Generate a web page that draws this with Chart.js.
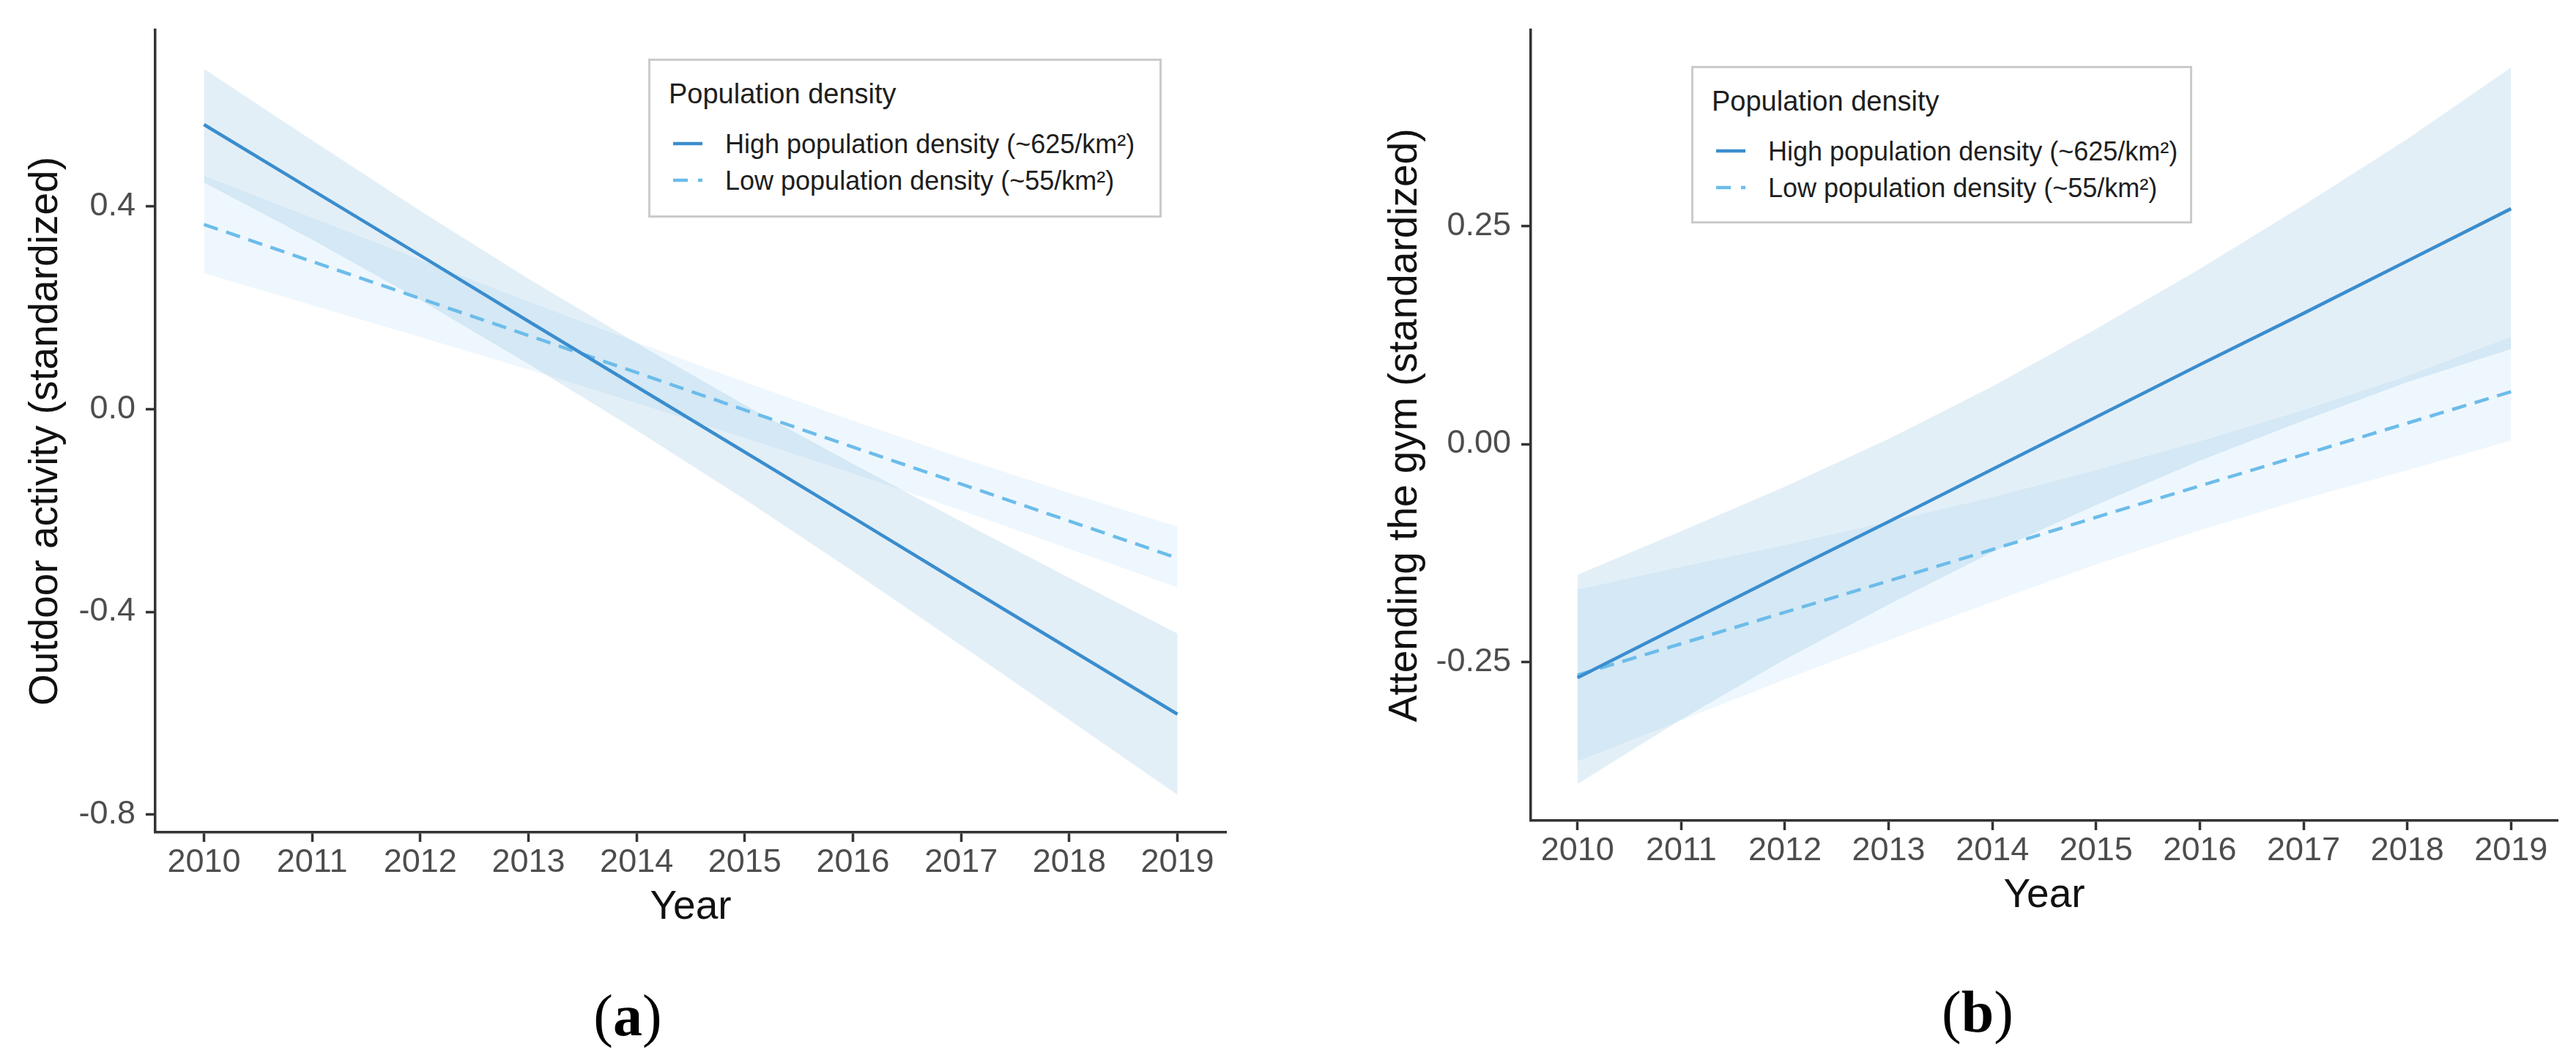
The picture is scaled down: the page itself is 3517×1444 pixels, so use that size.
<!DOCTYPE html>
<html>
<head>
<meta charset="utf-8">
<script src="https://cdn.jsdelivr.net/npm/chart.js@4.4.1/dist/chart.umd.min.js"></script>
<style>
  html, body { margin: 0; padding: 0; background: #fff; }
  #page { position: relative; width: 3517px; height: 1444px; overflow: hidden; font-family: "Liberation Sans", Arial, sans-serif; }
  canvas { position: absolute; top: 0; }
  .legend { position: absolute; box-sizing: border-box; border: 3px solid #cbcbcb; background: #fff; }
  .legend span { position: absolute; line-height: 1; color: #1e1e1e; white-space: nowrap; font-size: 36px; }
  .legend .ttl { font-size: 38px; left: 25px; top: 26px; }
  .legend svg { position: absolute; left: 31px; }
  .panel { position: absolute; width: 200px; text-align: center; font-family: "Liberation Serif", "Times New Roman", serif; font-size: 80px; line-height: 1; color: #000; }
</style>
</head>
<body>
<div id="page">
  <canvas id="chartA" width="1760" height="1444" style="left:0px"></canvas>
  <canvas id="chartB" width="1757" height="1444" style="left:1760px"></canvas>

  <div class="legend" id="legA" style="left:885px; top:80px; width:701px; height:217px;"></div>
  <div class="legend" id="legB" style="left:2309px; top:90px; width:684px; height:215px;"></div>

  <div class="panel" style="left:757px; top:1346px;">(<b>a</b>)</div>
  <div class="panel" style="left:2600px; top:1341px;">(<b>b</b>)</div>
</div>

<script>
// years on the x axis
const years = [2010, 2011, 2012, 2013, 2014, 2015, 2016, 2017, 2018, 2019];

// (a) outdoor activity
const outdoorHighFit = [0.561, 0.432, 0.303, 0.173, 0.044, -0.085, -0.214, -0.344, -0.473, -0.602];
const outdoorHighHi  = [0.671, 0.530, 0.391, 0.257, 0.130, 0.008, -0.108, -0.222, -0.333, -0.443];
const outdoorHighLo  = [0.447, 0.334, 0.215, 0.089, -0.042, -0.178, -0.320, -0.466, -0.613, -0.761];
const outdoorLowFit  = [0.364, 0.291, 0.218, 0.145, 0.072, -0.002, -0.075, -0.148, -0.221, -0.294];
const outdoorLowHi   = [0.460, 0.377, 0.294, 0.212, 0.132, 0.053, -0.023, -0.096, -0.166, -0.232];
const outdoorLowLo   = [0.268, 0.205, 0.142, 0.078, 0.012, -0.057, -0.127, -0.200, -0.276, -0.352];

// (b) attending the gym
const gymHighFit = [-0.268, -0.208, -0.148, -0.089, -0.029, 0.031, 0.091, 0.150, 0.210, 0.270];
const gymHighHi  = [-0.150, -0.100, -0.049, 0.006, 0.066, 0.132, 0.201, 0.274, 0.350, 0.432];
const gymHighLo  = [-0.390, -0.316, -0.247, -0.184, -0.124, -0.070, -0.019, 0.027, 0.071, 0.109];
const gymLowFit  = [-0.265, -0.229, -0.193, -0.157, -0.121, -0.084, -0.048, -0.012, 0.024, 0.060];
const gymLowHi   = [-0.167, -0.141, -0.116, -0.089, -0.061, -0.030, 0.003, 0.039, 0.078, 0.123];
const gymLowLo   = [-0.364, -0.317, -0.270, -0.225, -0.181, -0.138, -0.099, -0.063, -0.030, 0.004];

// y ticks
const outdoorTicks = [-0.8, -0.4, 0, 0.4];
const outdoorTickLabels = ["-0.8", "-0.4", "0.0", "0.4"];
const gymTicks = [-0.25, 0, 0.25];
const gymTickLabels = ["-0.25", "0.00", "0.25"];

const legendTitle = "Population density";
const seriesNames = ["High population density (~625/km²)", "Low population density (~55/km²)"];

const HIGH_COL = "#3a8dce";
const LOW_COL = "#6cbcea";
const HIGH_BAND = "rgba(66,146,198,0.15)";
const LOW_BAND = "rgba(90,180,240,0.10)";
const AXIS_COL = "#333333";
const TICK_COL = "#4d4d4d";
const DASH = [20, 12];

Chart.defaults.font.family = '"Liberation Sans", Arial, sans-serif';

function pts(vals) {
  return years.map((yr, i) => ({ x: yr, y: vals[i] }));
}

function edge(vals, fill, color) {
  return {
    data: pts(vals), borderColor: "rgba(0,0,0,0)", borderWidth: 0,
    pointRadius: 0, fill: fill, backgroundColor: color
  };
}

function buildChart(id, o) {
  return new Chart(document.getElementById(id), {
    type: "line",
    data: {
      datasets: [
        { data: pts(o.highFit), borderColor: HIGH_COL, borderWidth: 4.5, pointRadius: 0, fill: false },
        { data: pts(o.lowFit), borderColor: LOW_COL, borderWidth: 4.5, borderDash: DASH, pointRadius: 0, fill: false },
        edge(o.highHi, "+1", HIGH_BAND),
        edge(o.highLo, false, "rgba(0,0,0,0)"),
        edge(o.lowHi, "+1", LOW_BAND),
        edge(o.lowLo, false, "rgba(0,0,0,0)")
      ]
    },
    options: {
      responsive: false,
      animation: false,
      devicePixelRatio: 1,
      layout: { padding: o.pad },
      plugins: { legend: { display: false }, tooltip: { enabled: false } },
      scales: {
        x: {
          type: "linear", min: 2009.55, max: 2019.45,
          afterBuildTicks: s => { s.ticks = years.map(v => ({ value: v })); },
          afterFit: s => { s.height = o.xH; },
          ticks: { callback: v => String(v), color: TICK_COL, font: { size: 45, lineHeight: 1.2 }, padding: 2, maxRotation: 0, autoSkip: false },
          grid: { drawOnChartArea: false, tickLength: 13, tickWidth: 3.5, tickColor: AXIS_COL },
          border: { color: AXIS_COL, width: 3.5 },
          title: { display: true, text: "Year", color: "#111", font: { size: 55, lineHeight: 1.2 }, padding: { top: 0, bottom: o.xTitlePad } }
        },
        y: {
          type: "linear", min: o.yMin, max: o.yMax,
          afterBuildTicks: s => { s.ticks = o.yTicks.map(v => ({ value: v })); },
          afterFit: s => { s.width = o.yW; },
          ticks: { callback: v => o.yLabels[o.yTicks.indexOf(v)], color: TICK_COL, font: { size: 45, lineHeight: 1.2 }, padding: 14, autoSkip: false },
          grid: { drawOnChartArea: false, tickLength: 13, tickWidth: 3.5, tickColor: AXIS_COL },
          border: { color: AXIS_COL, width: 3.5 },
          title: { display: true, text: o.yTitle, color: "#111", font: { size: 55, lineHeight: 1.2 }, padding: { top: o.yTitlePad, bottom: 0 } }
        }
      }
    }
  });
}

buildChart("chartA", {
  highFit: outdoorHighFit, highHi: outdoorHighHi, highLo: outdoorHighLo,
  lowFit: outdoorLowFit, lowHi: outdoorLowHi, lowLo: outdoorLowLo,
  yMin: -0.835, yMax: 0.7475, yTicks: outdoorTicks, yLabels: outdoorTickLabels,
  yTitle: "Outdoor activity (standardized)",
  pad: { left: 0, top: 19, right: 86, bottom: 0 },
  yW: 212, xH: 308, yTitlePad: 30, xTitlePad: 172
});

buildChart("chartB", {
  highFit: gymHighFit, highHi: gymHighHi, highLo: gymHighLo,
  lowFit: gymLowFit, lowHi: gymLowHi, lowLo: gymLowLo,
  yMin: -0.432, yMax: 0.475, yTicks: gymTicks, yLabels: gymTickLabels,
  yTitle: "Attending the gym (standardized)",
  pad: { left: 0, top: 33, right: 25, bottom: 0 },
  yW: 330, xH: 324, yTitlePad: 126, xTitlePad: 188
});

// legends
function fillLegend(id) {
  const box = document.getElementById(id);
  const t = document.createElement("span");
  t.className = "ttl";
  t.textContent = legendTitle;
  box.appendChild(t);
  const keys = [
    { color: HIGH_COL, dash: "", top: 108 },
    { color: LOW_COL, dash: "20 14", top: 158 }
  ];
  seriesNames.forEach((name, i) => {
    const k = keys[i];
    const svg = document.createElementNS("http://www.w3.org/2000/svg", "svg");
    svg.setAttribute("width", "40");
    svg.setAttribute("height", "10");
    svg.style.top = k.top + "px";
    const ln = document.createElementNS("http://www.w3.org/2000/svg", "line");
    ln.setAttribute("x1", "0"); ln.setAttribute("x2", "40");
    ln.setAttribute("y1", "5"); ln.setAttribute("y2", "5");
    ln.setAttribute("stroke", k.color);
    ln.setAttribute("stroke-width", "4.5");
    if (k.dash) ln.setAttribute("stroke-dasharray", k.dash);
    svg.appendChild(ln);
    box.appendChild(svg);

    const s = document.createElement("span");
    s.textContent = name;
    s.style.left = "102px";
    s.style.top = (96 + i * 50) + "px";
    box.appendChild(s);
  });
}
fillLegend("legA");
fillLegend("legB");
</script>
</body>
</html>
